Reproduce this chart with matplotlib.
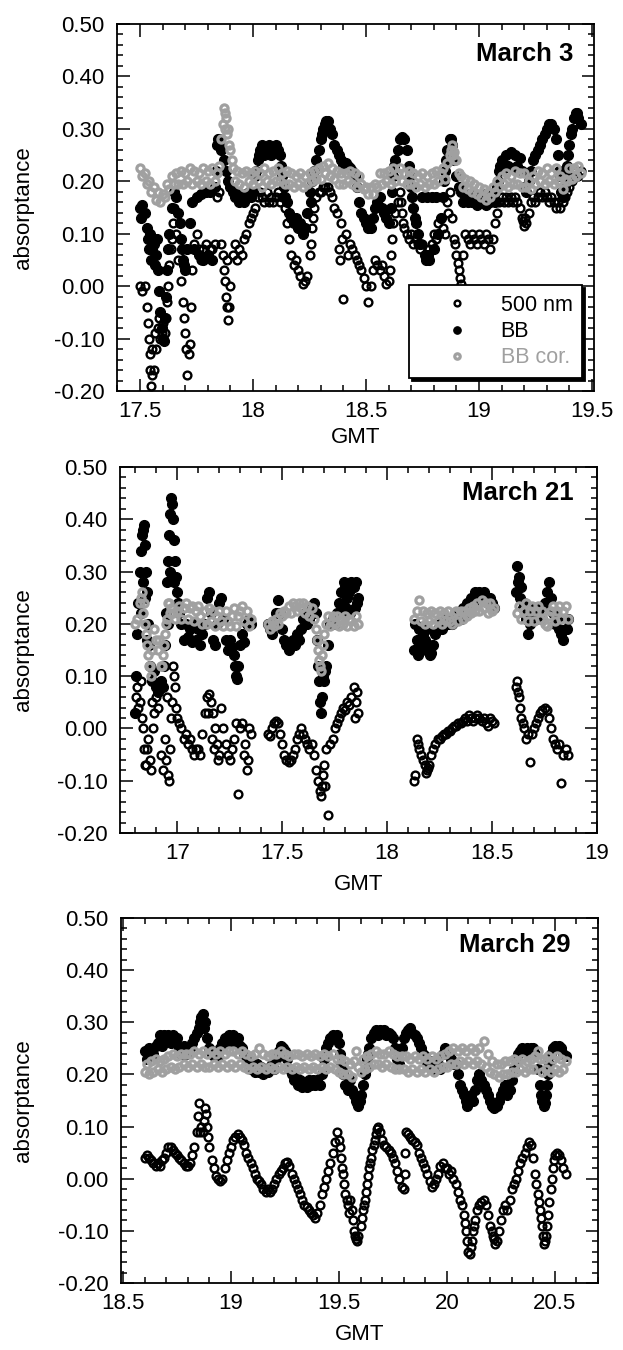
import numpy as np
import matplotlib
matplotlib.use("Agg")
import matplotlib.pyplot as plt
from matplotlib.ticker import MultipleLocator, FormatStrFormatter

plt.rcParams['font.family'] = ['Liberation Sans', 'DejaVu Sans']

# samples are 0.01 h apart (GMT hours); each series lists absorptance per sample
SAMPLE_STEP = 0.01

# ---------------- March 3 (record starts 17.50 GMT) ----------------
mar3_start = 17.50
mar3_500 = [
    0.00, -0.01, 0.00, -0.04, -0.10, -0.19, -0.16, -0.12, -0.08, -0.10,
    -0.07, -0.09, -0.03, 0.04, 0.09, 0.15, 0.10, 0.05, 0.01, -0.03,
    -0.09, -0.17, -0.11, 0.03, 0.08, 0.10, 0.07, 0.05, 0.07, 0.08,
    0.06, 0.07, 0.07, 0.08, 0.17, 0.18, 0.08, 0.03, -0.02, -0.065,
    0.00, 0.06, 0.08, 0.05, 0.07, 0.06, 0.09, 0.10, 0.12, 0.13,
    0.14, 0.15, 0.17, 0.18, 0.17, 0.16, 0.18, 0.16, 0.17, 0.16,
    0.17, 0.18, 0.16, 0.17, 0.15, 0.12, 0.09, 0.06, 0.04, 0.05,
    0.03, 0.02, 0.005, 0.01, 0.02, 0.06, 0.11, 0.15, 0.17, 0.18,
    0.18, 0.19, 0.19, 0.19, 0.18, 0.17, 0.15, 0.14, 0.07, 0.12,
    -0.025, 0.10, 0.06, 0.08, 0.07, 0.06, 0.05, 0.04, 0.03, 0.015,
    0.00, -0.03, 0.00, 0.03, 0.05, 0.04, 0.03, 0.04, 0.02, 0.005,
    0.01, 0.06, 0.12, 0.14, 0.16, 0.18, 0.14, 0.11, 0.10, 0.09,
    0.10, 0.08, 0.09, 0.08, 0.07, 0.08, 0.06, 0.06, 0.07, 0.08,
    0.10, 0.09, 0.12, 0.13, 0.11, 0.10, 0.16, 0.18, 0.13, 0.09,
    0.06, 0.03, 0.005, 0.06, 0.10, 0.09, 0.08, 0.10, 0.09, 0.08,
    0.10, 0.09, 0.08, 0.10, 0.09, 0.07, 0.09, 0.12, 0.14, 0.16,
    0.17, 0.16, 0.17, 0.16, 0.17, 0.16, 0.17, 0.16, 0.15, 0.13,
    0.115, 0.12, 0.14, 0.16, 0.17, 0.16, 0.17, 0.18, 0.17, 0.18,
    0.17, 0.16, 0.17, 0.16, 0.15, 0.16, 0.15, 0.16, 0.17, 0.18,
    0.19, 0.20, 0.21, 0.22, 0.21, 0.22,
]
mar3_bb = [
    0.15, 0.155, 0.14, 0.11, 0.07, 0.05, 0.08, 0.06, 0.03, -0.05,
    -0.10, -0.06, 0.03, 0.10, 0.15, 0.18, 0.17, 0.14, 0.09, 0.05,
    0.03, 0.07, 0.12, 0.16, 0.07, 0.17, 0.06, 0.175, 0.05, 0.18,
    0.06, 0.18, 0.05, 0.19, 0.27, 0.28, 0.26, 0.24, 0.22, 0.20,
    0.19, 0.18, 0.17, 0.175, 0.16, 0.17, 0.16, 0.175, 0.18, 0.17,
    0.18, 0.21, 0.24, 0.26, 0.27, 0.25, 0.265, 0.27, 0.25, 0.26,
    0.27, 0.26, 0.25, 0.21, 0.17, 0.16, 0.14, 0.13, 0.12, 0.13,
    0.11, 0.12, 0.10, 0.11, 0.14, 0.18, 0.20, 0.22, 0.24, 0.26,
    0.28, 0.30, 0.31, 0.315, 0.30, 0.29, 0.27, 0.26, 0.25, 0.24,
    0.23, 0.235, 0.23, 0.225, 0.22, 0.21, 0.19, 0.16, 0.14, 0.13,
    0.12, 0.11, 0.11, 0.13, 0.15, 0.16, 0.17, 0.15, 0.14, 0.13,
    0.12, 0.15, 0.21, 0.24, 0.26, 0.28, 0.285, 0.28, 0.26, 0.23,
    0.19, 0.15, 0.12, 0.10, 0.08, 0.17, 0.06, 0.17, 0.05, 0.17,
    0.07, 0.17, 0.10, 0.13, 0.17, 0.22, 0.26, 0.28, 0.27, 0.24,
    0.21, 0.19, 0.18, 0.16, 0.175, 0.16, 0.175, 0.16, 0.17, 0.155,
    0.17, 0.16, 0.175, 0.155, 0.17, 0.16, 0.175, 0.16, 0.19, 0.22,
    0.24, 0.225, 0.25, 0.23, 0.255, 0.225, 0.25, 0.23, 0.245, 0.22,
    0.19, 0.18, 0.20, 0.22, 0.24, 0.25, 0.26, 0.27, 0.28, 0.29,
    0.30, 0.31, 0.31, 0.30, 0.28, 0.25, 0.21, 0.17, 0.19, 0.23,
    0.27, 0.30, 0.32, 0.33, 0.32, 0.31,
]
mar3_cor = [
    0.225, 0.21, 0.215, 0.195, 0.20, 0.18, 0.19, 0.165, 0.18, 0.16,
    0.175, 0.17, 0.195, 0.185, 0.21, 0.195, 0.215, 0.195, 0.22, 0.195,
    0.215, 0.20, 0.225, 0.195, 0.22, 0.20, 0.215, 0.195, 0.225, 0.20,
    0.22, 0.195, 0.225, 0.20, 0.215, 0.23, 0.28, 0.34, 0.32, 0.30,
    0.26, 0.225, 0.20, 0.22, 0.195, 0.215, 0.19, 0.22, 0.20, 0.215,
    0.195, 0.22, 0.20, 0.215, 0.19, 0.225, 0.20, 0.215, 0.195, 0.22,
    0.20, 0.225, 0.20, 0.215, 0.195, 0.22, 0.195, 0.215, 0.19, 0.21,
    0.195, 0.215, 0.19, 0.21, 0.195, 0.215, 0.20, 0.22, 0.205, 0.225,
    0.205, 0.23, 0.215, 0.235, 0.21, 0.225, 0.205, 0.22, 0.195, 0.215,
    0.195, 0.215, 0.20, 0.22, 0.195, 0.215, 0.19, 0.21, 0.195, 0.185,
    0.19, 0.175, 0.19, 0.175, 0.195, 0.19, 0.215, 0.195, 0.215, 0.20,
    0.22, 0.195, 0.225, 0.20, 0.215, 0.225, 0.20, 0.215, 0.195, 0.22,
    0.195, 0.215, 0.19, 0.21, 0.195, 0.215, 0.19, 0.21, 0.195, 0.215,
    0.195, 0.22, 0.20, 0.215, 0.225, 0.205, 0.235, 0.25, 0.27, 0.255,
    0.24, 0.215, 0.21, 0.19, 0.205, 0.185, 0.20, 0.18, 0.195, 0.175,
    0.19, 0.17, 0.185, 0.165, 0.18, 0.17, 0.19, 0.18, 0.20, 0.19,
    0.21, 0.195, 0.215, 0.19, 0.21, 0.195, 0.22, 0.195, 0.215, 0.19,
    0.215, 0.19, 0.20, 0.185, 0.21, 0.195, 0.22, 0.20, 0.215, 0.195,
    0.225, 0.20, 0.215, 0.195, 0.225, 0.20, 0.21, 0.185, 0.205, 0.20,
    0.225, 0.205, 0.225, 0.21, 0.23, 0.215,
]
# extra readings at steep parts of the record: (GMT, absorptance)
mar3_500_extra = [
    (17.535, -0.07), (17.545, -0.13), (17.545, -0.16), (17.555, -0.17), (17.555, -0.12),
    (17.565, -0.09), (17.585, -0.06), (17.595, -0.09), (17.615, -0.06), (17.625, 0.00),
    (17.635, 0.07), (17.645, 0.12), (17.695, -0.06), (17.705, -0.12), (17.715, -0.13),
    (17.725, -0.04), (17.865, 0.06), (17.875, 0.01), (17.885, -0.04), (17.885, 0.05),
    (17.895, -0.04), (18.255, 0.08), (18.265, 0.13), (18.385, 0.05), (18.395, 0.09),
    (18.605, 0.03), (18.615, 0.09), (18.655, 0.16), (18.665, 0.12), (18.865, 0.14),
    (18.895, 0.08), (18.905, 0.045), (18.915, 0.015), (19.195, 0.125), (19.205, 0.13),
]
mar3_bb_extra = [
    (17.505, 0.13), (17.535, 0.09), (17.545, 0.10), (17.555, 0.07), (17.565, 0.04),
    (17.575, 0.09), (17.585, -0.01), (17.595, -0.08), (17.605, -0.105), (17.615, -0.02),
    (17.625, 0.07), (17.675, 0.12), (17.685, 0.07), (17.695, 0.04), (17.835, 0.22),
    (17.845, 0.28), (17.855, 0.27), (18.015, 0.22), (18.025, 0.25), (18.125, 0.23),
    (18.135, 0.19), (18.255, 0.16), (18.265, 0.21), (18.305, 0.29), (18.325, 0.315),
    (18.615, 0.18), (18.625, 0.23), (18.695, 0.21), (18.705, 0.17), (18.715, 0.13),
    (18.765, 0.05), (18.775, 0.06), (18.845, 0.20), (18.855, 0.24), (18.875, 0.28),
    (19.085, 0.20), (19.095, 0.23), (19.355, 0.22), (19.365, 0.18), (19.385, 0.21),
    (19.395, 0.25), (19.405, 0.29), (19.435, 0.33),
]
mar3_cor_extra = [
    (17.865, 0.31), (17.875, 0.33), (17.875, 0.30), (17.885, 0.29), (17.895, 0.27),
    (17.905, 0.24), (18.875, 0.26), (18.885, 0.25), (18.895, 0.24),
]

# ---------------- March 21 (four stretches of record) ----------------
mar21_starts = [16.80, 17.43, 18.13, 18.62]
mar21_500 = [
    [0.03, 0.08, 0.05, 0.02, -0.04, -0.07, -0.02, -0.06, 0.05, 0.03,
     0.06, 0.04, -0.05, -0.08, -0.02, 0.06, -0.10, 0.02, 0.12, 0.08,
     0.02, 0.01, 0.00, -0.02, -0.01, -0.03, -0.02, -0.04, -0.05, -0.04,
     -0.04, -0.05, -0.01, 0.03, 0.06, 0.065, 0.05, 0.03, 0.00, -0.03,
     -0.05, 0.04, 0.00, -0.03, -0.05, -0.06, -0.04, -0.02, 0.01, -0.125,
     0.00, 0.01, -0.05, -0.08, 0.00, -0.01],
    [-0.01, -0.015, 0.00, 0.01, 0.015, 0.01, -0.01, -0.03, -0.05, -0.06,
     -0.065, -0.06, -0.05, -0.04, -0.02, -0.01, 0.00, -0.01, -0.02, -0.03,
     -0.04, -0.03, -0.05, -0.08, -0.10, -0.12, -0.11, -0.07, -0.04, -0.165,
     -0.03, -0.02, 0.00, 0.01, 0.02, 0.03, 0.04, 0.035, 0.05, 0.045,
     0.06, 0.08, 0.05, 0.03],
    [-0.10, -0.02, -0.04, -0.05, -0.06, -0.07, -0.08, -0.07, -0.05, -0.04,
     -0.03, -0.02, -0.02, -0.015, -0.01, -0.01, -0.005, -0.005, 0.00, 0.005,
     0.005, 0.01, 0.01, 0.015, 0.02, 0.015, 0.025, 0.02, 0.015, 0.02,
     0.025, 0.02, 0.015, 0.02, 0.01, 0.005, 0.02, 0.015, 0.01],
    [0.09, 0.06, 0.02, 0.00, -0.02, -0.01, -0.065, -0.01, 0.00, 0.01,
     0.02, 0.03, 0.035, 0.04, 0.035, 0.02, 0.00, -0.02, -0.03, -0.04,
     -0.03, -0.105, -0.05, -0.04, -0.05],
]
mar21_bb = [
    [0.03, 0.18, 0.30, 0.37, 0.39, 0.30, 0.20, 0.12, 0.09, 0.11,
     0.08, 0.07, 0.09, 0.08, 0.16, 0.28, 0.37, 0.44, 0.40, 0.32,
     0.26, 0.22, 0.20, 0.17, 0.20, 0.175, 0.19, 0.165, 0.20, 0.17,
     0.19, 0.16, 0.18, 0.20, 0.25, 0.26, 0.22, 0.17, 0.16, 0.20,
     0.24, 0.25, 0.21, 0.17, 0.15, 0.17, 0.155, 0.14, 0.10, 0.12,
     0.16, 0.18, 0.165, 0.20, 0.21, 0.20],
    [0.20, 0.19, 0.18, 0.20, 0.22, 0.245, 0.22, 0.19, 0.17, 0.16,
     0.15, 0.16, 0.17, 0.16, 0.18, 0.17, 0.19, 0.21, 0.22, 0.20,
     0.21, 0.23, 0.24, 0.22, 0.12, 0.05, 0.06, 0.09, 0.12, 0.16,
     0.20, 0.21, 0.20, 0.22, 0.24, 0.26, 0.24, 0.27, 0.25, 0.26,
     0.28, 0.27, 0.28, 0.25],
    [0.15, 0.17, 0.19, 0.16, 0.18, 0.17, 0.19, 0.16, 0.145, 0.16,
     0.18, 0.19, 0.20, 0.19, 0.20, 0.21, 0.20, 0.21, 0.20, 0.21,
     0.21, 0.22, 0.21, 0.23, 0.22, 0.24, 0.23, 0.25, 0.24, 0.26,
     0.25, 0.26, 0.25, 0.26, 0.25, 0.24, 0.25, 0.24, 0.23],
    [0.31, 0.29, 0.27, 0.24, 0.21, 0.18, 0.20, 0.22, 0.23, 0.21,
     0.22, 0.23, 0.21, 0.24, 0.26, 0.28, 0.25, 0.22, 0.20, 0.21,
     0.19, 0.18, 0.17, 0.19, 0.21],
]
mar21_cor = [
    [0.20, 0.21, 0.24, 0.26, 0.24, 0.18, 0.14, 0.12, 0.15, 0.19,
     0.17, 0.15, 0.12, 0.14, 0.18, 0.21, 0.24, 0.23, 0.22, 0.21,
     0.225, 0.235, 0.21, 0.23, 0.24, 0.21, 0.23, 0.235, 0.205, 0.225,
     0.235, 0.215, 0.20, 0.225, 0.20, 0.23, 0.205, 0.225, 0.195, 0.215,
     0.225, 0.205, 0.195, 0.225, 0.205, 0.195, 0.215, 0.23, 0.195, 0.215,
     0.225, 0.235, 0.205, 0.225, 0.195, 0.21],
    [0.20, 0.19, 0.205, 0.195, 0.21, 0.20, 0.22, 0.215, 0.225, 0.22,
     0.235, 0.22, 0.24, 0.235, 0.225, 0.24, 0.23, 0.24, 0.22, 0.235,
     0.215, 0.23, 0.21, 0.19, 0.15, 0.12, 0.14, 0.18, 0.20, 0.215,
     0.195, 0.215, 0.20, 0.215, 0.195, 0.21, 0.20, 0.215, 0.195, 0.21,
     0.205, 0.195, 0.215, 0.20],
    [0.21, 0.225, 0.245, 0.205, 0.225, 0.20, 0.22, 0.205, 0.225, 0.20,
     0.22, 0.205, 0.225, 0.20, 0.22, 0.205, 0.225, 0.205, 0.20, 0.22,
     0.225, 0.205, 0.225, 0.21, 0.225, 0.215, 0.23, 0.22, 0.235, 0.225,
     0.24, 0.225, 0.245, 0.23, 0.24, 0.22, 0.24, 0.225, 0.23],
    [0.22, 0.235, 0.21, 0.225, 0.24, 0.205, 0.225, 0.235, 0.205, 0.225,
     0.235, 0.21, 0.225, 0.20, 0.195, 0.215, 0.225, 0.235, 0.205, 0.225,
     0.235, 0.21, 0.225, 0.235, 0.21],
]
mar21_500_extra = [
    (16.805, 0.06), (16.815, 0.04), (16.825, 0.09), (16.835, 0.00), (16.845, -0.07),
    (16.855, -0.04), (16.875, -0.08), (16.885, 0.00), (16.945, -0.06), (16.955, -0.09),
    (16.965, -0.04), (16.975, 0.05), (16.985, 0.10), (16.995, 0.04), (17.145, 0.03),
    (17.165, -0.02), (17.175, -0.04), (17.195, -0.06), (17.325, -0.03), (17.335, -0.06),
    (17.685, -0.13), (17.695, -0.09), (17.705, -0.11), (17.845, 0.02), (17.855, 0.07),
    (18.135, -0.09), (18.145, -0.03), (18.185, -0.085), (18.195, -0.075),
    (18.615, 0.08), (18.625, 0.07), (18.635, 0.04), (18.645, 0.01),
]
mar21_bb_extra = [
    (16.805, 0.10), (16.815, 0.24), (16.825, 0.34), (16.825, 0.22), (16.835, 0.38),
    (16.835, 0.28), (16.845, 0.35), (16.845, 0.25), (16.855, 0.26), (16.855, 0.17),
    (16.865, 0.16), (16.935, 0.12), (16.945, 0.22), (16.955, 0.32), (16.955, 0.20),
    (16.965, 0.41), (16.965, 0.30), (16.975, 0.43), (16.985, 0.36), (16.985, 0.28),
    (16.995, 0.29), (17.005, 0.24), (17.275, 0.12), (17.285, 0.095),
    (17.665, 0.17), (17.675, 0.09), (17.685, 0.03), (17.695, 0.10), (17.705, 0.11),
    (17.785, 0.22), (17.805, 0.23), (17.825, 0.22), (17.845, 0.23), (17.855, 0.24),
    (17.795, 0.28), (18.135, 0.20), (18.145, 0.14), (18.165, 0.15), (18.195, 0.15),
    (18.205, 0.14), (18.615, 0.26), (18.625, 0.28), (18.635, 0.25), (18.645, 0.23),
    (18.855, 0.19),
]
mar21_cor_extra = [
    (16.825, 0.25), (16.835, 0.22), (16.845, 0.20), (16.855, 0.16), (16.865, 0.12),
    (16.875, 0.10), (16.915, 0.17), (16.925, 0.12), (16.935, 0.16), (16.945, 0.20),
    (16.955, 0.24), (16.965, 0.22), (17.665, 0.17), (17.675, 0.13), (17.685, 0.11),
    (17.695, 0.16),
]

# ---------------- March 29 (record starts 18.60 GMT) ----------------
mar29_start = 18.60
mar29_500 = [
    0.04, 0.045, 0.04, 0.035, 0.03, 0.025, 0.03, 0.025, 0.035, 0.04,
    0.05, 0.06, 0.06, 0.055, 0.05, 0.045, 0.04, 0.035, 0.03, 0.025,
    0.025, 0.03, 0.045, 0.06, 0.09, 0.145, 0.10, 0.09, 0.135, 0.10,
    0.06, 0.035, 0.02, 0.005, 0.00, -0.005, 0.00, 0.02, 0.035, 0.05,
    0.06, 0.075, 0.08, 0.085, 0.08, 0.075, 0.065, 0.05, 0.04, 0.03,
    0.02, 0.01, 0.00, -0.005, -0.01, -0.02, -0.025, -0.02, -0.025, -0.02,
    -0.01, 0.00, 0.01, 0.015, 0.02, 0.03, 0.033, 0.025, 0.01, 0.00,
    -0.01, -0.02, -0.03, -0.04, -0.05, -0.055, -0.06, -0.065, -0.07, -0.075,
    -0.065, -0.05, -0.03, -0.015, 0.00, 0.015, 0.03, 0.05, 0.07, 0.09,
    0.075, 0.04, 0.01, -0.03, -0.05, -0.04, -0.06, -0.10, -0.115, -0.11,
    -0.09, -0.06, -0.04, -0.01, 0.02, 0.04, 0.065, 0.085, 0.10, 0.09,
    0.075, 0.065, 0.06, 0.055, 0.05, 0.04, 0.03, 0.015, 0.00, -0.015,
    -0.02, 0.09, 0.085, 0.08, 0.075, 0.07, 0.065, 0.05, 0.04, 0.03,
    0.02, 0.01, -0.005, -0.015, -0.01, 0.00, 0.01, 0.025, 0.03, 0.02,
    0.02, 0.01, 0.015, 0.00, -0.01, -0.025, -0.04, -0.05, -0.07, -0.10,
    -0.14, -0.13, -0.10, -0.08, -0.06, -0.05, -0.045, -0.04, -0.05, -0.07,
    -0.09, -0.10, -0.115, -0.12, -0.10, -0.08, -0.06, -0.05, -0.06, -0.04,
    -0.02, -0.01, 0.00, 0.015, 0.03, 0.04, 0.05, 0.06, 0.07, 0.065,
    0.04, 0.01, -0.03, -0.06, -0.09, -0.125, -0.11, -0.07, -0.02, 0.02,
    0.045, 0.05, 0.045, 0.035, 0.02, 0.01,
]
mar29_bb = [
    0.245, 0.23, 0.25, 0.235, 0.24, 0.255, 0.26, 0.275, 0.255, 0.275,
    0.265, 0.275, 0.26, 0.275, 0.265, 0.27, 0.25, 0.24, 0.255, 0.24,
    0.245, 0.25, 0.26, 0.27, 0.28, 0.29, 0.31, 0.315, 0.30, 0.27,
    0.25, 0.24, 0.235, 0.24, 0.235, 0.25, 0.26, 0.27, 0.26, 0.275,
    0.265, 0.275, 0.26, 0.27, 0.255, 0.25, 0.24, 0.235, 0.22, 0.21,
    0.215, 0.205, 0.22, 0.205, 0.215, 0.20, 0.21, 0.205, 0.215, 0.22,
    0.21, 0.23, 0.245, 0.255, 0.25, 0.245, 0.23, 0.21, 0.20, 0.19,
    0.195, 0.18, 0.19, 0.175, 0.185, 0.175, 0.19, 0.18, 0.19, 0.18,
    0.19, 0.18, 0.20, 0.23, 0.25, 0.26, 0.27, 0.275, 0.27, 0.275,
    0.26, 0.22, 0.20, 0.18, 0.17, 0.19, 0.17, 0.16, 0.15, 0.14,
    0.16, 0.18, 0.20, 0.23, 0.25, 0.27, 0.28, 0.285, 0.275, 0.285,
    0.28, 0.285, 0.275, 0.28, 0.275, 0.27, 0.25, 0.23, 0.22, 0.25,
    0.27, 0.28, 0.285, 0.29, 0.28, 0.275, 0.27, 0.26, 0.25, 0.24,
    0.235, 0.22, 0.225, 0.21, 0.22, 0.215, 0.22, 0.21, 0.24, 0.25,
    0.245, 0.24, 0.23, 0.22, 0.22, 0.20, 0.18, 0.17, 0.16, 0.15,
    0.15, 0.16, 0.15, 0.17, 0.19, 0.20, 0.19, 0.18, 0.17, 0.16,
    0.15, 0.14, 0.135, 0.14, 0.15, 0.16, 0.17, 0.18, 0.16, 0.17,
    0.19, 0.21, 0.23, 0.24, 0.245, 0.25, 0.245, 0.25, 0.24, 0.25,
    0.25, 0.24, 0.21, 0.18, 0.15, 0.14, 0.16, 0.20, 0.24, 0.25,
    0.255, 0.25, 0.255, 0.25, 0.24, 0.235,
]
mar29_cor = [
    0.205, 0.22, 0.20, 0.225, 0.205, 0.23, 0.21, 0.225, 0.205, 0.23,
    0.21, 0.235, 0.215, 0.24, 0.21, 0.235, 0.215, 0.24, 0.22, 0.24,
    0.215, 0.24, 0.22, 0.245, 0.215, 0.24, 0.22, 0.245, 0.215, 0.24,
    0.215, 0.245, 0.22, 0.24, 0.215, 0.245, 0.22, 0.24, 0.215, 0.245,
    0.22, 0.245, 0.215, 0.24, 0.22, 0.245, 0.215, 0.24, 0.21, 0.235,
    0.215, 0.24, 0.21, 0.25, 0.215, 0.24, 0.21, 0.235, 0.215, 0.24,
    0.21, 0.24, 0.215, 0.245, 0.21, 0.24, 0.215, 0.235, 0.21, 0.24,
    0.215, 0.24, 0.21, 0.235, 0.215, 0.24, 0.21, 0.235, 0.215, 0.24,
    0.21, 0.235, 0.215, 0.24, 0.21, 0.235, 0.215, 0.24, 0.21, 0.23,
    0.205, 0.23, 0.20, 0.225, 0.20, 0.22, 0.195, 0.225, 0.245, 0.215,
    0.205, 0.23, 0.21, 0.235, 0.215, 0.24, 0.22, 0.245, 0.22, 0.24,
    0.215, 0.24, 0.22, 0.245, 0.215, 0.24, 0.21, 0.235, 0.21, 0.235,
    0.21, 0.235, 0.205, 0.23, 0.21, 0.235, 0.205, 0.23, 0.21, 0.235,
    0.205, 0.23, 0.21, 0.235, 0.205, 0.23, 0.21, 0.235, 0.215, 0.24,
    0.215, 0.245, 0.22, 0.25, 0.22, 0.245, 0.225, 0.25, 0.22, 0.245,
    0.225, 0.25, 0.22, 0.245, 0.225, 0.25, 0.22, 0.265, 0.215, 0.24,
    0.205, 0.225, 0.20, 0.22, 0.195, 0.22, 0.20, 0.225, 0.20, 0.225,
    0.205, 0.23, 0.205, 0.225, 0.21, 0.23, 0.205, 0.225, 0.21, 0.23,
    0.21, 0.235, 0.245, 0.23, 0.205, 0.23, 0.21, 0.235, 0.205, 0.23,
    0.21, 0.235, 0.205, 0.23, 0.21, 0.225,
]
mar29_500_extra = [
    (18.845, 0.12), (18.855, 0.09), (18.875, 0.11), (18.885, 0.125), (18.895, 0.08),
    (19.505, 0.06), (19.515, 0.02), (19.525, -0.01), (19.535, -0.04), (19.545, -0.065),
    (19.565, -0.08), (19.575, -0.11), (19.585, -0.12), (19.605, -0.075), (19.615, -0.05),
    (19.625, -0.025), (19.635, 0.005), (19.645, 0.03), (19.655, 0.055), (19.665, 0.075),
    (19.675, 0.095), (19.805, 0.05), (19.805, 0.01), (20.085, -0.085), (20.095, -0.12),
    (20.105, -0.145), (20.115, -0.12), (20.125, -0.09), (20.215, -0.11), (20.225, -0.125),
    (20.415, -0.01), (20.425, -0.045), (20.435, -0.075), (20.445, -0.11), (20.455, -0.12),
    (20.465, -0.09), (20.475, -0.045), (20.485, 0.00), (20.495, 0.035),
]
mar29_bb_extra = [
    (18.855, 0.30), (18.865, 0.30), (18.875, 0.29), (19.505, 0.24), (19.515, 0.21),
    (19.585, 0.145), (19.595, 0.15), (19.625, 0.21), (19.635, 0.24), (20.095, 0.14),
    (20.225, 0.14), (20.435, 0.16), (20.445, 0.15), (20.455, 0.145), (20.465, 0.18),
    (20.475, 0.22),
]
mar29_cor_extra = []

GRAY = '#a0a0a0'
style_bb = dict(ls='none', marker='o', ms=7.2, mfc='black', mec='black', mew=0.8, zorder=2)
style_500 = dict(ls='none', marker='o', ms=5.6, mfc='none', mec='black', mew=1.7, zorder=3)
style_cor = dict(ls='none', marker='o', ms=5.2, mfc='none', mec=GRAY, mew=2.3, zorder=4)


def series_xy(starts, segments, extra):
    ts = [start + SAMPLE_STEP * np.arange(len(vals)) for start, vals in zip(starts, segments)]
    vs = [np.asarray(vals, dtype=float) for vals in segments]
    ts.append(np.array([p[0] for p in extra], dtype=float))
    vs.append(np.array([p[1] for p in extra], dtype=float))
    return np.concatenate(ts), np.concatenate(vs)


panels = [
    dict(title='March 3', xlim=(17.398, 19.509), box=(117, 24, 594, 391),
         starts=[mar3_start], v500=[mar3_500], vbb=[mar3_bb], vcor=[mar3_cor],
         e500=mar3_500_extra, ebb=mar3_bb_extra, ecor=mar3_cor_extra,
         title_xy=(0.956, 0.918), gmt_y=-0.098, ylab_x=-0.175, legend=True),
    dict(title='March 21', xlim=(16.727, 19.0), box=(120, 467, 597, 833),
         starts=mar21_starts, v500=mar21_500, vbb=mar21_bb, vcor=mar21_cor,
         e500=mar21_500_extra, ebb=mar21_bb_extra, ecor=mar21_cor_extra,
         title_xy=(0.950, 0.929), gmt_y=-0.112, ylab_x=-0.181, legend=False),
    dict(title='March 29', xlim=(18.49, 20.70), box=(121, 918, 598, 1283),
         starts=[mar29_start], v500=[mar29_500], vbb=[mar29_bb], vcor=[mar29_cor],
         e500=mar29_500_extra, ebb=mar29_bb_extra, ecor=mar29_cor_extra,
         title_xy=(0.943, 0.926), gmt_y=-0.112, ylab_x=-0.183, legend=False),
]

W, H = 623, 1350
fig = plt.figure(figsize=(W / 100, H / 100), dpi=100)

for p in panels:
    x0, y0, x1, y1 = p['box']
    ax = fig.add_axes([x0 / W, 1 - y1 / H, (x1 - x0) / W, (y1 - y0) / H])

    t, v = series_xy(p['starts'], p['vbb'], p['ebb'])
    h_bb, = ax.plot(t, v, **style_bb)
    t, v = series_xy(p['starts'], p['v500'], p['e500'])
    h_500, = ax.plot(t, v, **style_500)
    t, v = series_xy(p['starts'], p['vcor'], p['ecor'])
    h_cor, = ax.plot(t, v, **style_cor)

    ax.set_xlim(*p['xlim'])
    ax.set_ylim(-0.2, 0.5)
    ax.xaxis.set_major_locator(MultipleLocator(0.5))
    ax.xaxis.set_minor_locator(MultipleLocator(0.1))
    ax.yaxis.set_major_locator(MultipleLocator(0.1))
    ax.yaxis.set_minor_locator(MultipleLocator(0.02))
    ax.xaxis.set_major_formatter(FormatStrFormatter('%g'))
    ax.yaxis.set_major_formatter(FormatStrFormatter('%.2f'))
    ax.tick_params(which='both', direction='in', top=True, right=True,
                   width=1.1, labelsize=16)
    ax.tick_params(which='major', length=9)
    ax.tick_params(which='minor', length=4.5)
    ax.tick_params(axis='y', pad=9)
    ax.tick_params(axis='x', pad=7)
    for s in ax.spines.values():
        s.set_linewidth(1.3)

    ax.set_xlabel('GMT', fontsize=16)
    ax.xaxis.set_label_coords(0.5, p['gmt_y'])
    ax.set_ylabel('absorptance', fontsize=16)
    ax.yaxis.set_label_coords(p['ylab_x'], 0.5)

    ax.text(p['title_xy'][0], p['title_xy'][1], p['title'], transform=ax.transAxes,
            ha='right', va='center', fontsize=18.5, fontweight='bold')

    if p['legend']:
        leg = ax.legend([h_500, h_bb, h_cor], ['500 nm', 'BB', 'BB cor.'],
                        loc='lower right', bbox_to_anchor=(0.975, 0.035),
                        borderaxespad=0, fancybox=False, framealpha=1,
                        shadow={'color': 'black', 'alpha': 1.0},
                        fontsize=15.5, borderpad=0.45, handlelength=3.6,
                        handletextpad=0.2, labelspacing=0.25, numpoints=1,
                        markerscale=0.75)
        leg.get_frame().set_edgecolor('black')
        leg.get_frame().set_linewidth(1.3)
        leg.get_texts()[2].set_color(GRAY)
        leg.set_zorder(10)

fig.savefig('out.png', dpi=100)
